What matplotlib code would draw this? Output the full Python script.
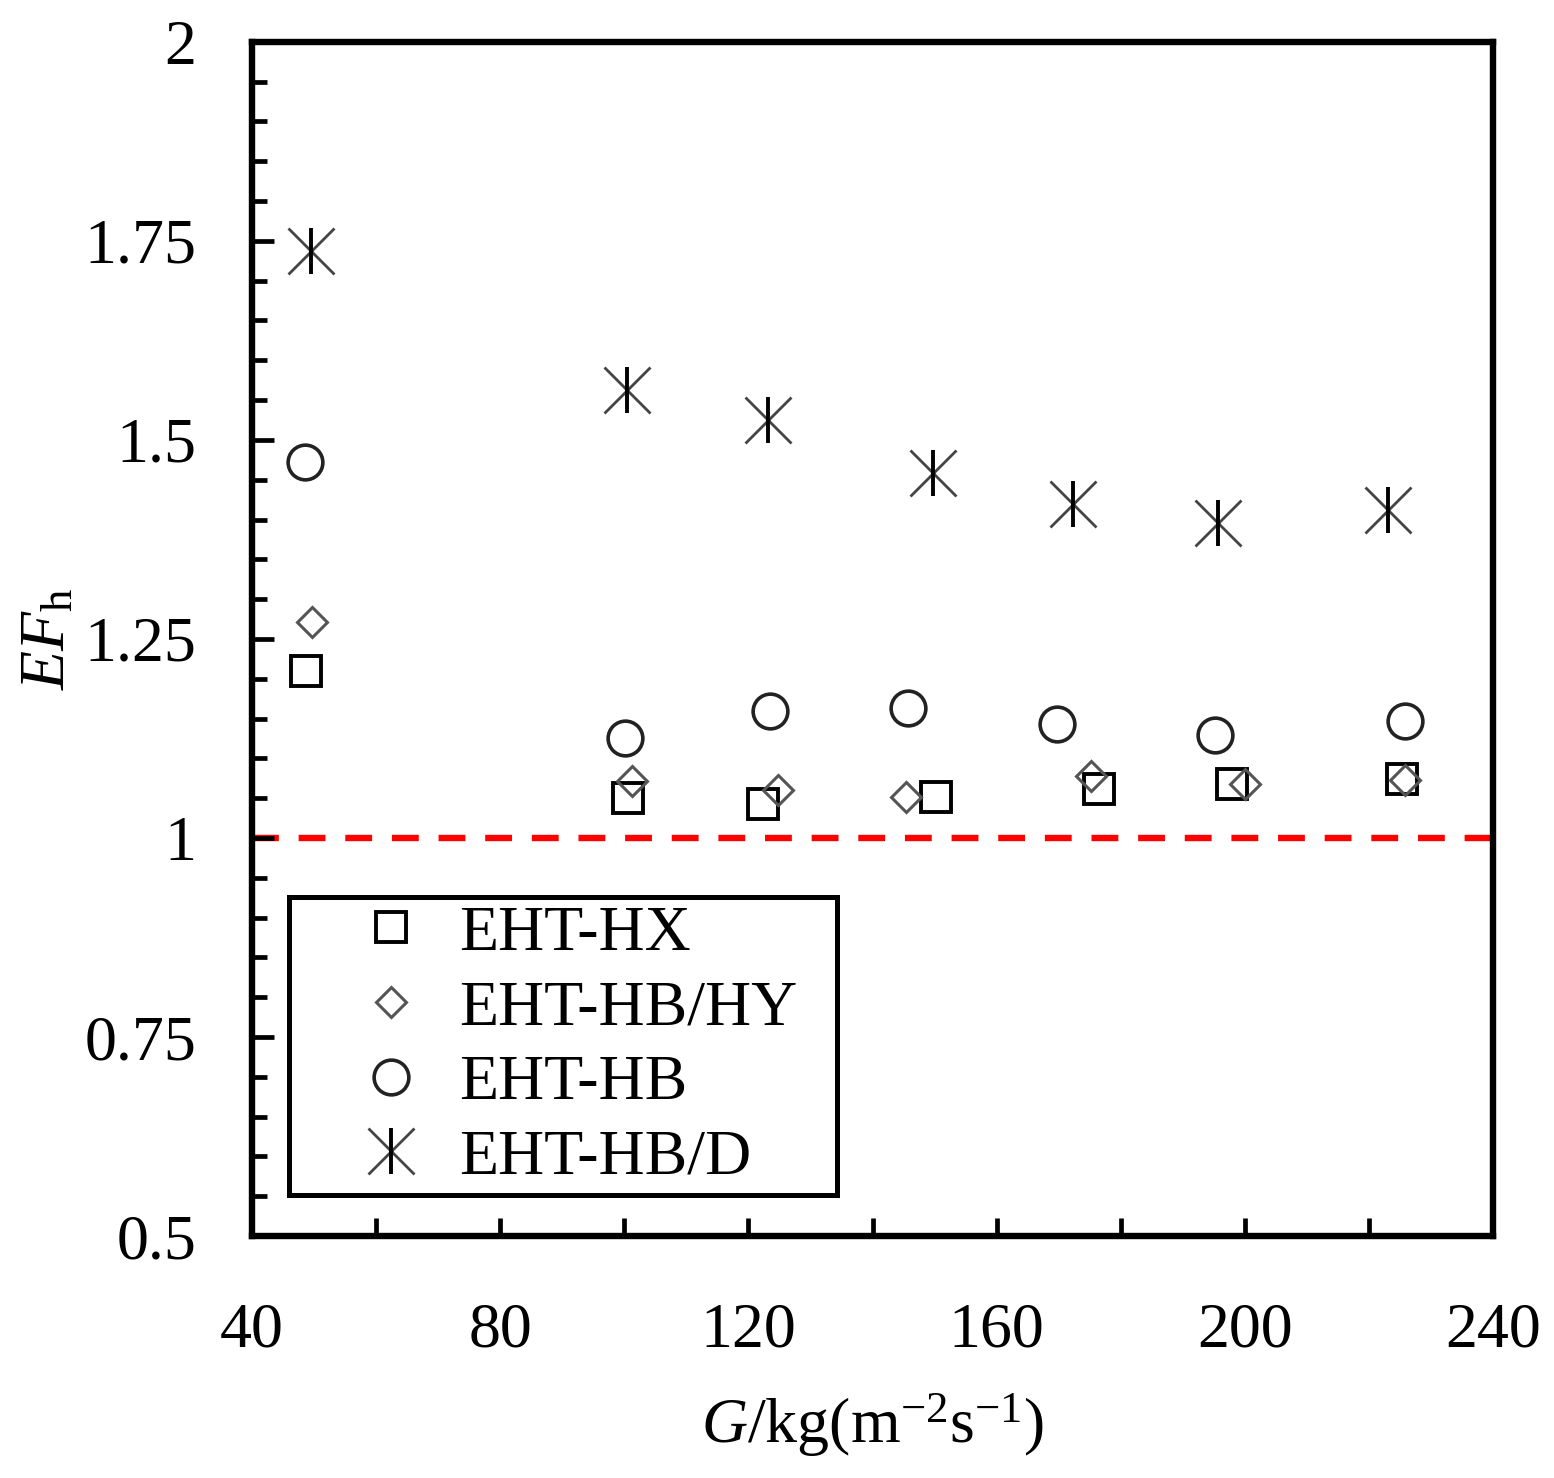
import numpy as np
import matplotlib
matplotlib.use("Agg")
import matplotlib.pyplot as plt
from matplotlib.legend_handler import HandlerTuple

plt.rcParams['font.family'] = ['Liberation Serif', 'DejaVu Serif']
plt.rcParams['mathtext.fontset'] = 'custom'
plt.rcParams['mathtext.rm'] = 'Liberation Serif'
plt.rcParams['mathtext.it'] = 'Liberation Serif:italic'

# G values (kg m^-2 s^-1) and EF_h
g_hx = [48.7, 100.6, 122.4, 150.2, 176.5, 197.9, 225.2]
ef_hx = [1.210, 1.050, 1.043, 1.051, 1.062, 1.068, 1.074]

g_hbhy = [49.7, 101.2, 124.8, 145.4, 175.2, 200.0, 225.7]
ef_hbhy = [1.271, 1.072, 1.060, 1.051, 1.078, 1.068, 1.073]

g_hb = [48.5, 100.1, 123.5, 145.7, 169.7, 195.2, 225.8]
ef_hb = [1.472, 1.126, 1.160, 1.163, 1.143, 1.129, 1.147]

g_hbd = [49.5, 100.4, 123.2, 149.7, 172.3, 195.7, 223.1]
ef_hbd = [1.737, 1.563, 1.525, 1.459, 1.420, 1.396, 1.412]

labels = ['EHT-HX', 'EHT-HB/HY', 'EHT-HB', 'EHT-HB/D']

fs = 46

fig = plt.figure(figsize=(15.54, 14.78), dpi=100)
ax = fig.add_axes([0.162, 0.1637, 0.799, 0.808])

ax.axhline(1.0, color='#ff0000', lw=4.6, ls=(0, (4.2, 3.1)), zorder=1)

h1, = ax.plot(g_hx, ef_hx, ls='none', marker='s', ms=22, mfc='none', mec='black',
              mew=2.8)
h2, = ax.plot(g_hbhy, ef_hbhy, ls='none', marker='D', ms=15, mfc='none', mec='#555555',
              mew=2.2)
h3, = ax.plot(g_hb, ef_hb, ls='none', marker='o', ms=25, mfc='none', mec='#222222',
              mew=2.6)
# asterisk = grey X plus black vertical bar
h4a, = ax.plot(g_hbd, ef_hbd, ls='none', marker='x', ms=33, mec='#444444', mew=2.0)
h4b, = ax.plot(g_hbd, ef_hbd, ls='none', marker='|', ms=33, mec='black', mew=2.8)

ax.set_xlim(40, 240)
ax.set_ylim(0.5, 2)
ax.set_xticks([40, 80, 120, 160, 200, 240])
ax.set_xticks(np.arange(60, 240, 40), minor=True)
ax.set_yticks([0.5, 0.75, 1, 1.25, 1.5, 1.75, 2])
ax.set_yticklabels(['0.5', '0.75', '1', '1.25', '1.5', '1.75', '2'])
ax.set_yticks(np.arange(0.5, 2.0, 0.05), minor=True)

ax.tick_params(which='both', direction='in', top=False, right=False,
               labelsize=fs, width=3.4)
ax.tick_params(axis='y', which='major', length=16, pad=40)
ax.tick_params(axis='y', which='minor', length=11)
ax.tick_params(axis='x', which='major', length=13, pad=48)
ax.tick_params(axis='x', which='minor', length=13)

for sp in ax.spines.values():
    sp.set_linewidth(4.6)

ax.set_xlabel(r'$G$/kg(m$^{-2}$s$^{-1}$)', fontsize=fs, labelpad=22)
ax.set_ylabel(r'$EF_{\rm h}$', fontsize=fs, labelpad=4)

leg = ax.legend([h1, h2, h3, (h4a, h4b)], labels,
                handler_map={tuple: HandlerTuple(ndivide=1)},
                loc='lower left', bbox_to_anchor=(0.03, 0.034, 0.4416, 0.1),
                mode='expand', borderaxespad=0, framealpha=1,
                fontsize=fs, frameon=True, fancybox=False, labelspacing=0.25,
                handletextpad=-0.41, handlelength=2.96, borderpad=0.12)
leg.get_frame().set_edgecolor('black')
leg.get_frame().set_linewidth(3.6)

fig.savefig('out.png', dpi=100)
